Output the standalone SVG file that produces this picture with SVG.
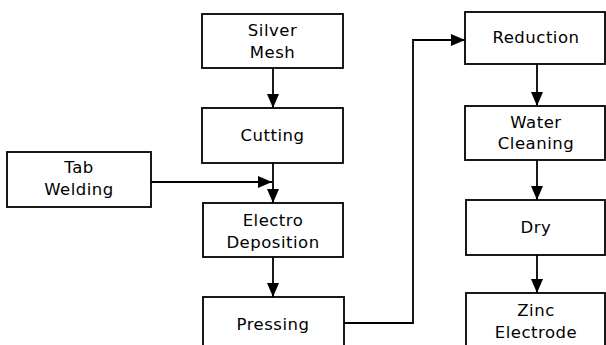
<svg xmlns="http://www.w3.org/2000/svg" width="606" height="345" viewBox="0 0 606 345">
<style>
.box{fill:#fff;stroke:#000;stroke-width:1.8}
.t{font-family:"DejaVu Sans","Liberation Sans",Arial,sans-serif;font-size:16.5px;letter-spacing:0.5px;fill:#000;text-anchor:middle}
.c{fill:none;stroke:#000;stroke-width:1.8}
</style>
<defs>
<marker id="ah" viewBox="0 0 14 12" refX="14" refY="6" markerWidth="14" markerHeight="12" markerUnits="userSpaceOnUse" orient="auto">
<path d="M0,0 L14,6 L0,12 Z" fill="#000"/>
</marker>
</defs>
<rect width="606" height="345" fill="#fff"/>
<g id="connectors">
<line class="c" x1="273" y1="68" x2="273" y2="108" marker-end="url(#ah)"/>
<line class="c" x1="273" y1="163" x2="273" y2="203" marker-end="url(#ah)"/>
<line class="c" x1="151" y1="182" x2="272" y2="182" marker-end="url(#ah)"/>
<line class="c" x1="273" y1="257" x2="273" y2="297" marker-end="url(#ah)"/>
<polyline class="c" points="344,323 413,323 413,40 465,40" marker-end="url(#ah)"/>
<line class="c" x1="537" y1="64" x2="537" y2="106" marker-end="url(#ah)"/>
<line class="c" x1="537" y1="160" x2="537" y2="200" marker-end="url(#ah)"/>
<line class="c" x1="537" y1="255" x2="537" y2="293" marker-end="url(#ah)"/>
</g>
<g id="silver-mesh"><rect class="box" x="202" y="14" width="141" height="54"/><text class="t" x="272.5" y="36">Silver</text><text class="t" x="272.5" y="58">Mesh</text></g>
<g id="cutting"><rect class="box" x="202" y="108" width="141" height="55"/><text class="t" x="272.5" y="141">Cutting</text></g>
<g id="tab-welding"><rect class="box" x="7" y="152" width="144" height="55"/><text class="t" x="79" y="173">Tab</text><text class="t" x="79" y="195">Welding</text></g>
<g id="electro-deposition"><rect class="box" x="203" y="203" width="140" height="54"/><text class="t" x="273" y="226">Electro</text><text class="t" x="273" y="248">Deposition</text></g>
<g id="pressing"><rect class="box" x="203" y="297" width="141" height="60"/><text class="t" x="273" y="330">Pressing</text></g>
<g id="reduction"><rect class="box" x="465" y="12" width="140" height="52"/><text class="t" x="536" y="43">Reduction</text></g>
<g id="water-cleaning"><rect class="box" x="465" y="106" width="140" height="54"/><text class="t" x="536" y="128">Water</text><text class="t" x="536" y="149">Cleaning</text></g>
<g id="dry"><rect class="box" x="466" y="200" width="139" height="55"/><text class="t" x="536" y="233">Dry</text></g>
<g id="zinc-electrode"><rect class="box" x="466" y="293" width="139" height="60"/><text class="t" x="536" y="316">Zinc</text><text class="t" x="536" y="338">Electrode</text></g>
</svg>
